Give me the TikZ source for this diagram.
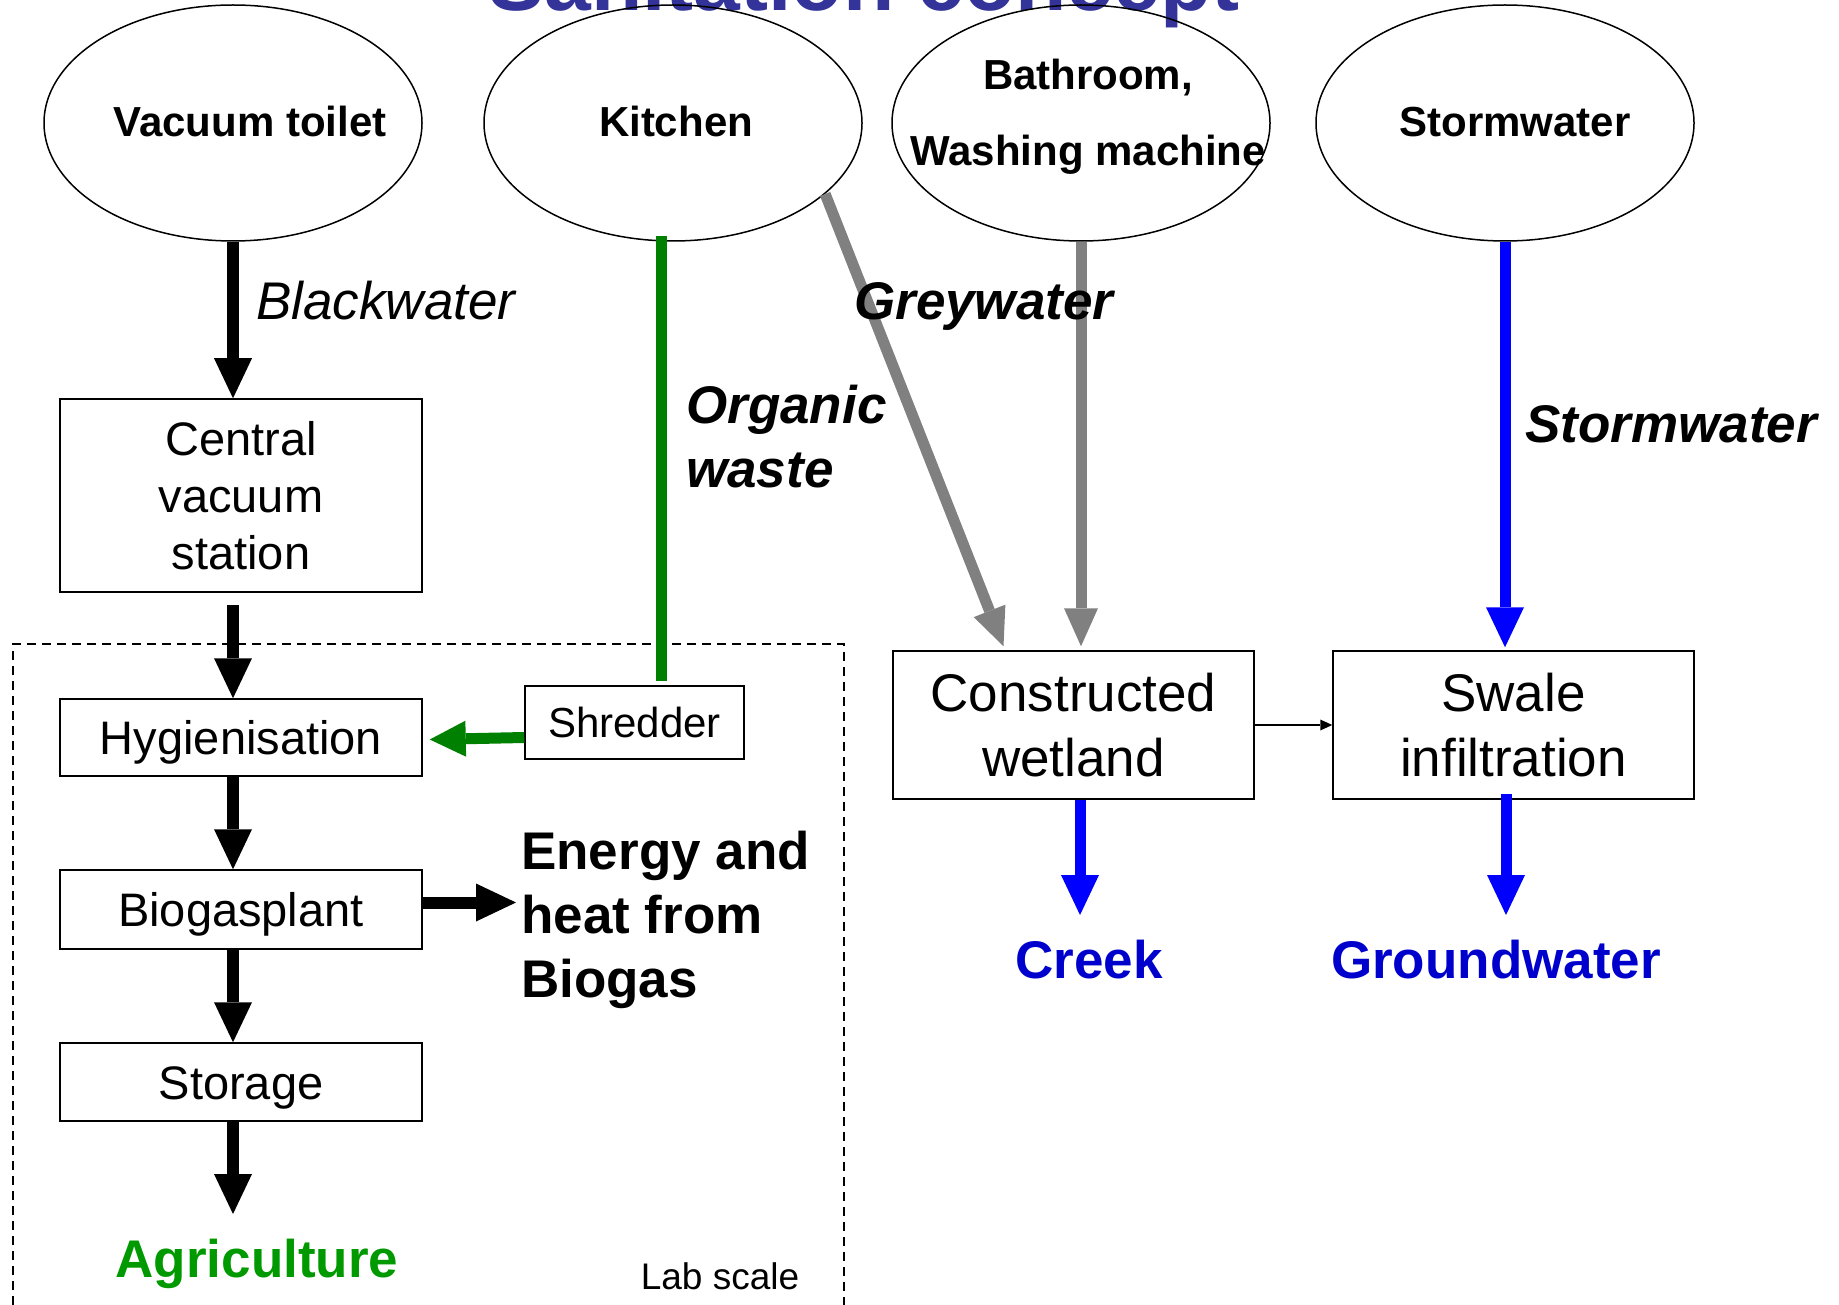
\documentclass[tikz,border=0pt]{standalone}
\usepackage{fontspec}
\setmainfont{Liberation Sans}
\usetikzlibrary{arrows.meta,shapes.geometric,calc}
\definecolor{titleblue}{RGB}{51,51,153}
\definecolor{flowgreen}{RGB}{0,128,0}
\definecolor{agrgreen}{RGB}{0,153,0}
\definecolor{flowgray}{RGB}{128,128,128}
\definecolor{outblue}{RGB}{0,0,204}
\newcommand{\fntTitle}{\fontsize{84}{90}\selectfont\bfseries}
\newcommand{\fntSrc}{\fontsize{42}{76}\selectfont\bfseries}
\newcommand{\fntBox}{\fontsize{47}{57}\selectfont}
\newcommand{\fntBig}{\fontsize{53}{65}\selectfont}
\newcommand{\fntShr}{\fontsize{42}{50}\selectfont}
\newcommand{\fntLbl}{\fontsize{53}{64}\selectfont\bfseries\itshape}
\newcommand{\fntOut}{\fontsize{53}{64}\selectfont\bfseries}
\newcommand{\fntLab}{\fontsize{37}{44}\selectfont}
\begin{document}
\begin{tikzpicture}[x=1pt,y=-1pt,
  src/.style={draw,ellipse,line width=1.5pt,minimum width=378pt,minimum height=236pt,inner sep=0pt},
  boxnode/.style={draw,rectangle,line width=1.5pt,inner sep=0pt,align=center},
  bighead/.style={-{Triangle[width=38pt,length=40pt,line width=0pt]}},
  blk/.style={line width=12pt,black,bighead},
  grn/.style={line width=11pt,flowgreen},
  gry/.style={line width=11pt,flowgray,-{Triangle[width=34pt,length=38pt,line width=0pt]}},
  blu/.style={line width=11pt,blue,bighead},
  thin/.style={line width=1.5pt,black,-{Triangle[width=11pt,length=12pt,line width=0pt]}}
]
\useasboundingbox (0,0) rectangle (1839,1305);
\clip (0,0) rectangle (1839,1305);

% title (cut off at the top, as in the original)
\node[anchor=base,font=\fntTitle,text=titleblue,inner sep=0pt] (title) at (864,11) {Sanitation concept};

% sources
\node[src] (vt) at (233,123) {};
\node[src] (kit) at (673,123) {};
\node[src] (bath) at (1081,123) {};
\node[src] (sw) at (1505,123) {};
\node[anchor=base,font=\fntSrc,inner sep=0pt] (vtl) at (250,137) {Vacuum toilet};
\node[anchor=base,font=\fntSrc,inner sep=0pt] (kitl) at (676,137) {Kitchen};
\node[anchor=north,align=center,font=\fntSrc,inner sep=0pt] (bathl) at (1088,59) {Bathroom,\\Washing machine};
\node[anchor=base,font=\fntSrc,inner sep=0pt] (swl) at (1515,137) {Stormwater};

% lab scale frame
\draw[line width=1.3pt,dash pattern=on 9pt off 6pt] (13,1320) -- (13,644) -- (844,644) -- (844,1320);
\node[anchor=base,font=\fntLab,inner sep=0pt] (lab) at (720,1289) {Lab scale};

% boxes
\node[boxnode,minimum width=362pt,minimum height=193pt,font=\fntBox] (cvs) at (241,495.5) {Central\\vacuum\\station};
\node[boxnode,minimum width=362pt,minimum height=77pt,font=\fntBox,text height=34pt,text depth=0pt] (hyg) at (241,737.5) {Hygienisation};
\node[boxnode,minimum width=362pt,minimum height=79pt,font=\fntBox,text height=34pt,text depth=0pt] (bio) at (241,909.5) {Biogasplant};
\node[boxnode,minimum width=362pt,minimum height=78pt,font=\fntBox,text height=34pt,text depth=0pt] (sto) at (241,1082) {Storage};
\node[boxnode,minimum width=219pt,minimum height=73pt,font=\fntShr,text height=30pt,text depth=0pt] (shr) at (634.5,722.5) {Shredder};
\node[boxnode,minimum width=361pt,minimum height=148pt,font=\fntBig] (cw) at (1073.5,725) {Constructed\\wetland};
\node[boxnode,minimum width=361pt,minimum height=148pt,font=\fntBig] (swi) at (1513.5,725) {Swale\\infiltration};

% outputs
\node[anchor=base,font=\fntOut,text=agrgreen,inner sep=0pt] (agr) at (257,1277) {Agriculture};
\node[anchor=base,font=\fntOut,text=outblue,inner sep=0pt] (creek) at (1089,978) {Creek};
\node[anchor=base,font=\fntOut,text=outblue,inner sep=0pt] (gw) at (1496,978) {Groundwater};
\node[anchor=north west,align=left,font=\fntOut,inner sep=0pt] (energy) at (521,831) {Energy and\\heat from\\Biogas};

% helper coordinates
\coordinate (agrin) at (vt.south |- 0,1214);
\coordinate (creekin) at (1080,915);
\coordinate (gwin) at (1506,915);
\coordinate (gtop) at ($(kit.south)+(-12,-6)$);
\coordinate (gbot) at ($(gtop |- shr.north)+(0,-4)$);

% black chain
\draw[blk] (vt.south) -- (vt.south |- cvs.north);
\draw[blk] ($(vt.south |- cvs.south)+(0,12)$) -- (vt.south |- hyg.north);
\draw[blk] (vt.south |- hyg.south) -- (vt.south |- bio.north);
\draw[blk] (vt.south |- bio.south) -- (vt.south |- sto.north);
\draw[blk] (vt.south |- sto.south) -- (agrin);
\draw[blk] ($(bio.east)+(0,-7)$) -- ($(energy.west |- bio.east)+(-5,-7)$);

% organic waste
\draw[grn] (gtop) -- (gbot);
\draw[grn,-{Triangle[width=36pt,length=36pt,line width=0pt]}] ($(shr.west)+(0,15)$) -- ($(hyg.east)+(7,2)$);

% greywater
\draw[gry] (kit.-25) -- ($(cw.north)+(-70,-4)$);
\draw[gry] (bath.south) -- ($(bath.south |- cw.north)+(0,-4)$);

% stormwater
\draw[blu] (sw.south) -- ($(sw.south |- swi.north)+(0,-3)$);
\draw[blu] (1080,0 |- cw.south) -- (creekin);
\draw[blu] ($(1506,0 |- swi.south)+(0,-6)$) -- (gwin);
\draw[thin] (cw.east) -- (cw.east -| swi.west);

% flow labels (on top of the connectors)
\node[anchor=base west,font=\fontsize{53}{64}\selectfont\itshape,inner sep=0pt] (bwl) at (256,320) {Blackwater};
\node[anchor=north west,align=left,font=\fntLbl,inner sep=0pt] (orgl) at (686,385) {Organic\\waste};
\node[anchor=base west,font=\fntLbl,inner sep=0pt] (gwl) at (854,320) {Greywater};
\node[anchor=base west,font=\fntLbl,inner sep=0pt] (swfl) at (1525,442) {Stormwater};
\end{tikzpicture}
\end{document}
